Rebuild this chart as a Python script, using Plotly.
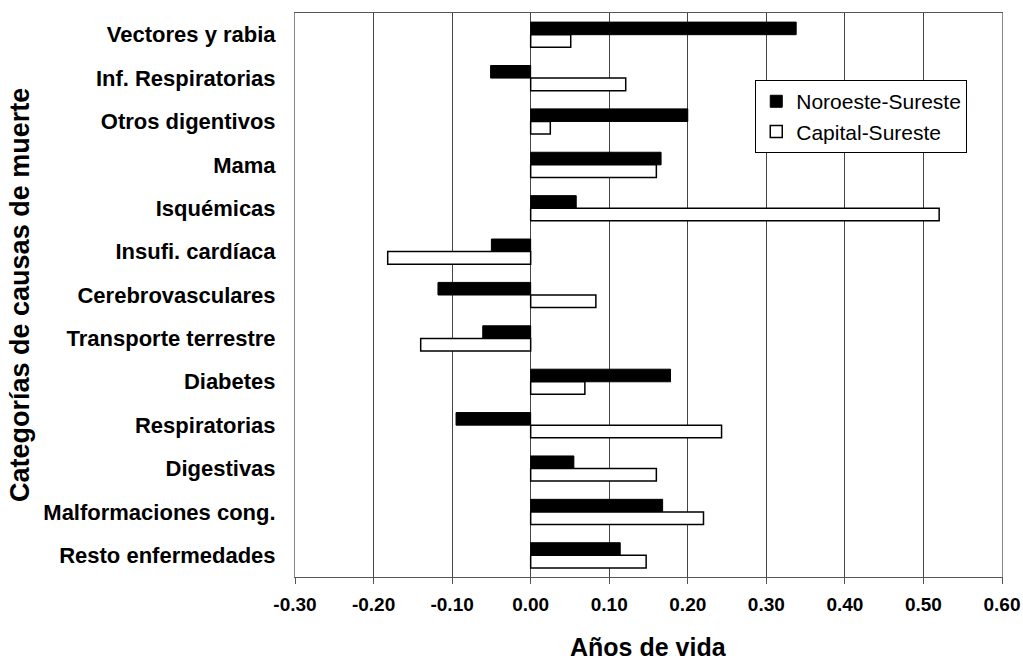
import plotly.graph_objects as go

categories = ["Vectores y rabia", "Inf. Respiratorias", "Otros digentivos", "Mama",
              "Isquémicas", "Insufi. cardíaca", "Cerebrovasculares", "Transporte terrestre",
              "Diabetes", "Respiratorias", "Digestivas", "Malformaciones cong.",
              "Resto enfermedades"]
noroeste = [0.338, -0.051, 0.200, 0.166, 0.058, -0.050, -0.118, -0.061,
            0.178, -0.095, 0.055, 0.168, 0.114]
capital = [0.051, 0.121, 0.025, 0.160, 0.520, -0.182, 0.083, -0.140,
           0.069, 0.243, 0.160, 0.220, 0.147]
xticks = [-0.3, -0.2, -0.1, 0.0, 0.1, 0.2, 0.3, 0.4, 0.5, 0.6]

FONT = "Arial, Liberation Sans, sans-serif"

fig = go.Figure()
fig.add_trace(go.Bar(y=categories, x=noroeste, orientation="h", name="Noroeste-Sureste",
                     marker=dict(color="black", line=dict(color="black", width=1))))
fig.add_trace(go.Bar(y=categories, x=capital, orientation="h", name="Capital-Sureste",
                     marker=dict(color="white", line=dict(color="black", width=1.5))))

fig.update_layout(
    width=1023, height=660,
    margin=dict(l=295, r=21, t=13, b=83),
    paper_bgcolor="white", plot_bgcolor="white",
    barmode="group", bargap=0.42, bargroupgap=0,
    font=dict(family=FONT, color="black"),
    legend=dict(x=0.651, y=0.881, xanchor="left", yanchor="top",
                bgcolor="white", bordercolor="black", borderwidth=1,
                font=dict(size=21, family=FONT), itemwidth=30, tracegroupgap=0),
    showlegend=True,
)
fig.update_xaxes(range=[-0.3, 0.6], tickvals=xticks,
                 ticktext=[f"{v:.2f}" for v in xticks],
                 tickfont=dict(size=19, family=FONT, weight="bold"),
                 showgrid=True, gridcolor="#444", gridwidth=1,
                 zeroline=False, showline=True, linecolor="#555", linewidth=1,
                 mirror=True, ticks="outside", ticklen=6, tickcolor="#555",
                 ticklabelstandoff=4, automargin=False)
fig.update_yaxes(autorange="reversed", type="category",
                 tickfont=dict(size=22, family=FONT, weight="bold"),
                 showgrid=False, showline=True, linecolor="#888", linewidth=1,
                 mirror=True, ticks="", ticklabelstandoff=14, automargin=False)

fig.add_annotation(text="Años de vida", xref="paper", yref="paper",
                   x=0.5, y=-0.124, xanchor="center", yanchor="middle",
                   showarrow=False, font=dict(size=25, family=FONT, weight="bold"))
fig.add_annotation(text="Categorías de causas de muerte", xref="paper", yref="paper",
                   x=-0.389, y=0.5, xanchor="center", yanchor="middle", textangle=-90,
                   showarrow=False, font=dict(size=27, family=FONT, weight="bold"))

fig.write_html("out.html")
